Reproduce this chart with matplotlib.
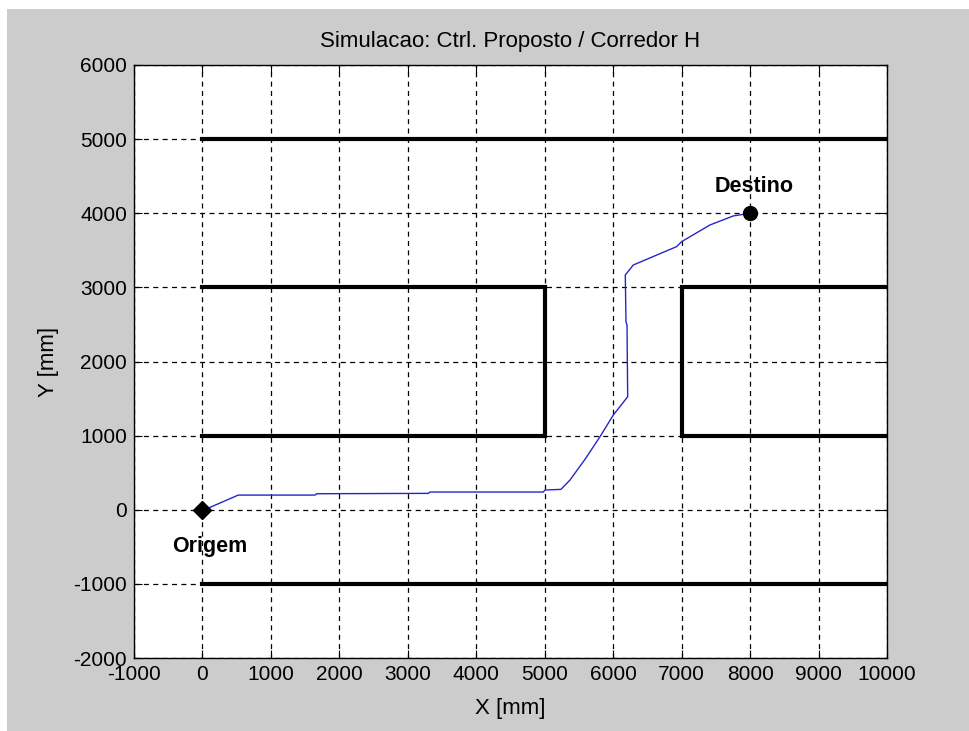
import matplotlib
matplotlib.use('Agg')
import matplotlib.pyplot as plt
import matplotlib.patches as mpatches

plt.rcParams['font.family'] = ['Liberation Sans', 'DejaVu Sans']
plt.rcParams['axes.unicode_minus'] = False

# trajetoria do robo (mm)
traj_x = [0, 110, 523, 1644, 1668, 3300, 3323, 4979, 5004, 5237, 5369, 5588,
          5807, 6002, 6212, 6202, 6187, 6177, 6294, 6927, 7000, 7414, 7755, 8000]
traj_y = [0, 32, 198, 198, 216, 221, 239, 239, 266, 275, 401, 680,
          985, 1278, 1525, 2493, 2537, 3167, 3302, 3550, 3617, 3842, 3964, 4000]

# paredes do corredor H (cada uma: xs, ys)
walls = [
    ([0, 10000], [5000, 5000]),
    ([0, 10000], [-1000, -1000]),
    ([0, 5000, 5000, 0], [3000, 3000, 1000, 1000]),
    ([10000, 7000, 7000, 10000], [3000, 3000, 1000, 1000]),
]

origem = (0, 0)
destino = (8000, 4000)

x_ticks = list(range(-1000, 10001, 1000))
y_ticks = list(range(-2000, 6001, 1000))

fig = plt.figure(figsize=(9.70, 7.31), dpi=100)
fig.patch.set_facecolor('white')
# fundo cinza estilo matlab
fig.patches.append(mpatches.Rectangle((7 / 970, 0), 1, 722 / 731, transform=fig.transFigure,
                                      facecolor='#cccccc', edgecolor='none', zorder=-10))

ax = fig.add_axes([134 / 970, 1 - 658 / 731, 753 / 970, 593 / 731])
ax.set_facecolor('white')

for xs, ys in walls:
    ax.plot(xs, ys, color='black', lw=3, solid_joinstyle='miter', zorder=3)

ax.plot(traj_x, traj_y, color='#2626c8', lw=1, zorder=4)
ax.plot(*origem, marker='D', color='black', markersize=9, zorder=5)
ax.plot(*destino, marker='o', color='black', markersize=10, zorder=5)

ax.text(origem[0] + 110, origem[1] - 490, 'Origem', fontsize=15.5, fontweight='bold',
        ha='center', va='center')
ax.text(destino[0] + 60, destino[1] + 355, 'Destino', fontsize=15.5, fontweight='bold',
        ha='center', va='center')

ax.set_xlim(-1000, 10000)
ax.set_ylim(-2000, 6000)
ax.set_xticks(x_ticks)
ax.set_yticks(y_ticks)
ax.tick_params(direction='in', top=True, right=True, length=6, labelsize=15, pad=5, colors='black')
ax.grid(True, color='black', linestyle=(0, (4, 3.5)), lw=0.9)
for s in ax.spines.values():
    s.set_linewidth(1)

ax.set_title('Simulacao: Ctrl. Proposto / Corredor H', fontsize=16, pad=13)
ax.set_xlabel('X [mm]', fontsize=16, labelpad=10)
ax.set_ylabel('Y [mm]', fontsize=16, labelpad=10)

fig.savefig('out.png', dpi=100)
